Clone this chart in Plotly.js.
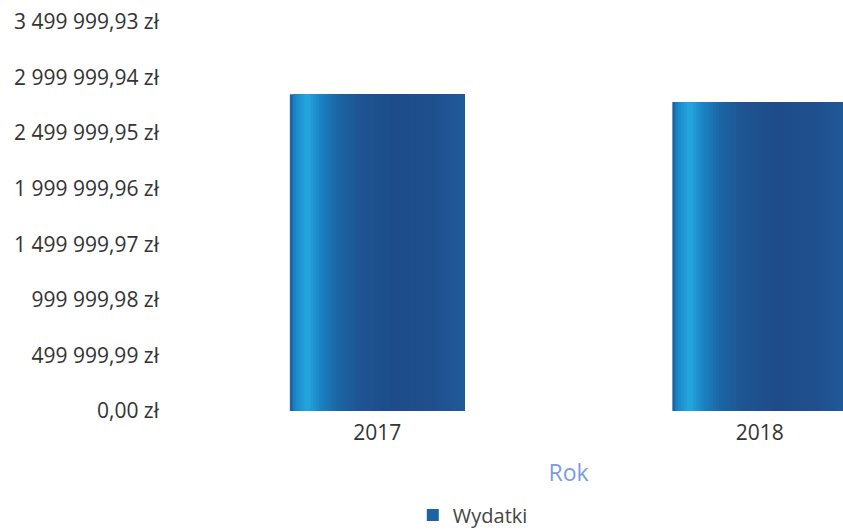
<!DOCTYPE html>
<html>
<head>
<meta charset="utf-8">
<script src="https://cdn.plot.ly/plotly-3.0.1.min.js"></script>
<style>
html,body{margin:0;padding:0;background:#fff;overflow:hidden;width:843px;height:531px;}
#chart{width:960px;height:531px;}
</style>
</head>
<body>
<div id="chart"></div>
<script>
// ---- data ----
const years = ['2017', '2018'];
const expenses = [2850000, 2780000];
const seriesName = 'Wydatki';
const xTitle = 'Rok';
const yTickStep = 499999.99;
const yMax = 3499999.93;

// ---- style: horizontal gradient approximated by stripes ----
const barWidth = 0.457;
const gradStops = [ // [fraction across bar, rgb]
  [0.00, [28, 110, 175]],
  [0.04, [26, 140, 204]],
  [0.10, [36, 168, 224]],
  [0.17, [27, 132, 196]],
  [0.27, [28, 102, 166]],
  [0.40, [30, 84, 146]],
  [0.60, [30, 76, 138]],
  [0.82, [31, 80, 142]],
  [1.00, [32, 90, 152]]
];
function colorAt(f) {
  for (let i = 1; i < gradStops.length; i++) {
    if (f <= gradStops[i][0]) {
      const [f0, c0] = gradStops[i - 1], [f1, c1] = gradStops[i];
      const t = (f - f0) / (f1 - f0);
      const c = c0.map((v, k) => Math.round(v + (c1[k] - v) * t));
      return 'rgb(' + c.join(',') + ')';
    }
  }
  return 'rgb(' + gradStops[gradStops.length - 1][1].join(',') + ')';
}

const traces = [];
const nStripes = 60;
for (let i = 0; i < nStripes; i++) {
  const f0 = i / nStripes;
  traces.push({
    type: 'bar',
    x: years,
    y: expenses,
    name: seriesName,
    showlegend: i === 0,
    legendgroup: 'w',
    offset: -barWidth / 2 + f0 * barWidth,
    width: barWidth * (1 - f0),
    marker: {color: colorAt(f0 + 0.5 / nStripes), line: {width: 0}},
    hoverinfo: 'skip'
  });
}
// legend swatch colour
traces[0].marker.color = 'rgb(30,100,165)';

const layout = {
  width: 960,
  height: 531,
  margin: {l: 186, r: 9, t: 22, b: 120},
  paper_bgcolor: '#ffffff',
  plot_bgcolor: '#ffffff',
  barmode: 'overlay',
  separators: ', ',
  font: {family: 'Open Sans, sans-serif', color: '#333333'},
  showlegend: true,
  legend: {
    orientation: 'h',
    xref: 'container', yref: 'container',
    x: 0.43, xanchor: 'left',
    y: 0.03, yanchor: 'middle',
    font: {size: 20, color: '#444444'},
    itemwidth: 30,
    borderwidth: 0
  },
  xaxis: {
    type: 'category',
    showgrid: false,
    zeroline: false,
    showline: false,
    ticks: '',
    ticklabelstandoff: 7,
    tickfont: {size: 21, color: '#333333'},
    title: {text: xTitle, font: {size: 23, color: '#7b9be0'}, standoff: 19},
    automargin: false
  },
  yaxis: {
    range: [0, yMax],
    tick0: 0,
    dtick: yTickStep,
    tickformat: ',.2f',
    ticksuffix: ' zł',
    showgrid: false,
    zeroline: false,
    showline: false,
    ticks: '',
    ticklabelstandoff: 26,
    tickfont: {size: 21, color: '#333333'},
    automargin: false
  }
};

Plotly.newPlot('chart', traces, layout, {displayModeBar: false, staticPlot: true});
</script>
</body>
</html>
